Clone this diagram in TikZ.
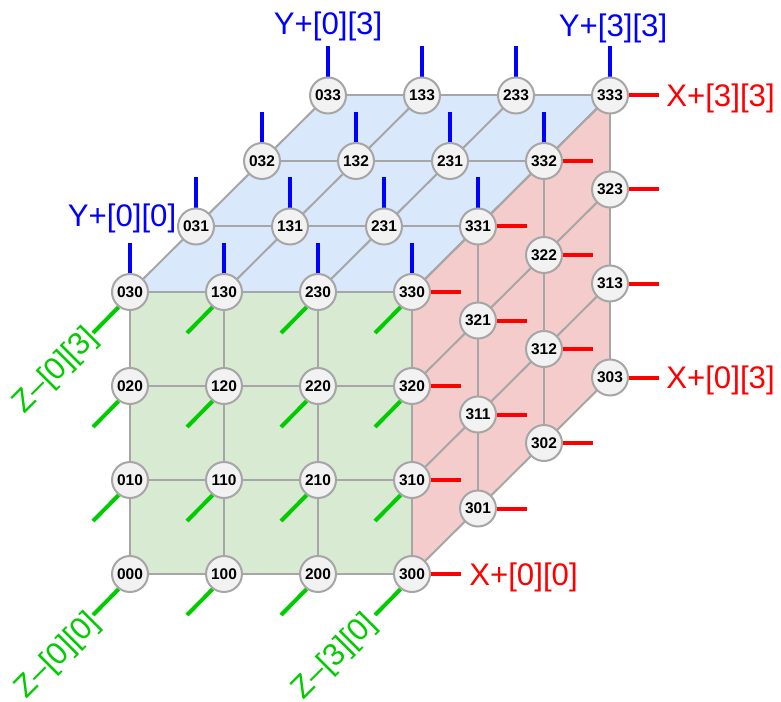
\documentclass[tikz,border=0pt]{standalone}
\usepackage{fontspec}
\setmainfont{Liberation Sans}
\usetikzlibrary{backgrounds}
\definecolor{topface}{HTML}{DAE8FC}
\definecolor{frontface}{HTML}{D9EAD3}
\definecolor{sideface}{HTML}{F4CCCC}
\definecolor{linegray}{HTML}{A6A6A6}
\definecolor{cellfill}{HTML}{F2F2F2}
\definecolor{zgreen}{HTML}{00CC00}

\begin{document}
\begin{tikzpicture}[
    x=0.75pt, y=-0.75pt,
    cell/.style={circle, draw=linegray, fill=cellfill, line width=1.5pt, minimum size=27pt, inner sep=0pt, font=\fontsize{11.6}{13}\selectfont\bfseries},
    gridline/.style={linegray, line width=1.5pt},
    ystub/.style={blue, line width=3pt},
    xstub/.style={red, line width=3pt},
    zstub/.style={zgreen, line width=3pt},
    ytext/.style={text=blue, font=\fontsize{23.4}{26}\selectfont, inner sep=0pt},
    xtext/.style={text=red, font=\fontsize{23.4}{26}\selectfont, inner sep=0pt, anchor=west},
    ztext/.style={text=zgreen, font=\fontsize{23.4}{26}\selectfont, inner sep=0pt, rotate=45}
]
\useasboundingbox (0,0) rectangle (781,702);

% Front face
\foreach \i in {0,...,3}
  \foreach \j in {0,...,3}
    \node[cell] (n\i\j0) at ({130+94*\i},{574-94*\j}) {\i\j0};

% Side face
\foreach \j in {0,...,3}
  \foreach \k in {1,2,3}
    \node[cell] (n3\j\k) at ({412+66*\k},{574-94*\j-65.5*\k}) {3\j\k};

% Top face
\foreach \i/\k/\txt in {0/1/031,1/1/131,2/1/231,0/2/032,1/2/132,2/2/231,0/3/033,1/3/133,2/3/233}
  \node[cell] (n\i3\k) at ({130+94*\i+66*\k},{292-65.5*\k}) {\txt};

\begin{scope}[on background layer]
  \fill[topface] (n030.center) -- (n330.center) -- (n333.center) -- (n033.center) -- cycle;
  \fill[frontface] (n000.center) -- (n300.center) -- (n330.center) -- (n030.center) -- cycle;
  \fill[sideface] (n300.center) -- (n303.center) -- (n333.center) -- (n330.center) -- cycle;

  % Grid lines
  \foreach \j in {0,...,3} {
    \draw[gridline] (n0\j0.center) -- (n3\j0.center);
    \draw[gridline] (n3\j0.center) -- (n3\j3.center);
  }
  \foreach \i in {0,...,3} {
    \draw[gridline] (n\i00.center) -- (n\i30.center);
    \draw[gridline] (n\i30.center) -- (n\i33.center);
  }
  \foreach \k in {1,2,3} {
    \draw[gridline] (n03\k.center) -- (n33\k.center);
    \draw[gridline] (n30\k.center) -- (n33\k.center);
  }

  % Stubs
  \foreach \a in {0,...,3}
    \foreach \b in {0,...,3} {
      \coordinate (ye\a\b) at ([shift={(0,-49)}]n\a3\b.center);
      \draw[ystub] (n\a3\b.center) -- (ye\a\b);
      \coordinate (xe\a\b) at ([shift={(49,0)}]n3\a\b.center);
      \draw[xstub] (n3\a\b.center) -- (xe\a\b);
      \coordinate (ze\a\b) at ([shift={(-37,41)}]n\a\b0.center);
      \draw[zstub] (n\a\b0.233) -- (ze\a\b);
    }
\end{scope}

% Port labels
\node[ytext] (y00) at (122,218) {Y+[0][0]};
\node[ytext] (y03) at (328,26) {Y+[0][3]};
\node[ytext] (y33) at (613,28) {Y+[3][3]};
\node[xtext] (x33) at (666,98) {X+[3][3]};
\node[xtext] (x03) at (666,380) {X+[0][3]};
\node[xtext] (x00) at (469,577) {X+[0][0]};
\node[ztext] (z03) at (56,371) {Z–[0][3]};
\node[ztext] (z00) at (58,656) {Z–[0][0]};
\node[ztext] (z30) at (335,657) {Z–[3][0]};

\end{tikzpicture}
\end{document}
